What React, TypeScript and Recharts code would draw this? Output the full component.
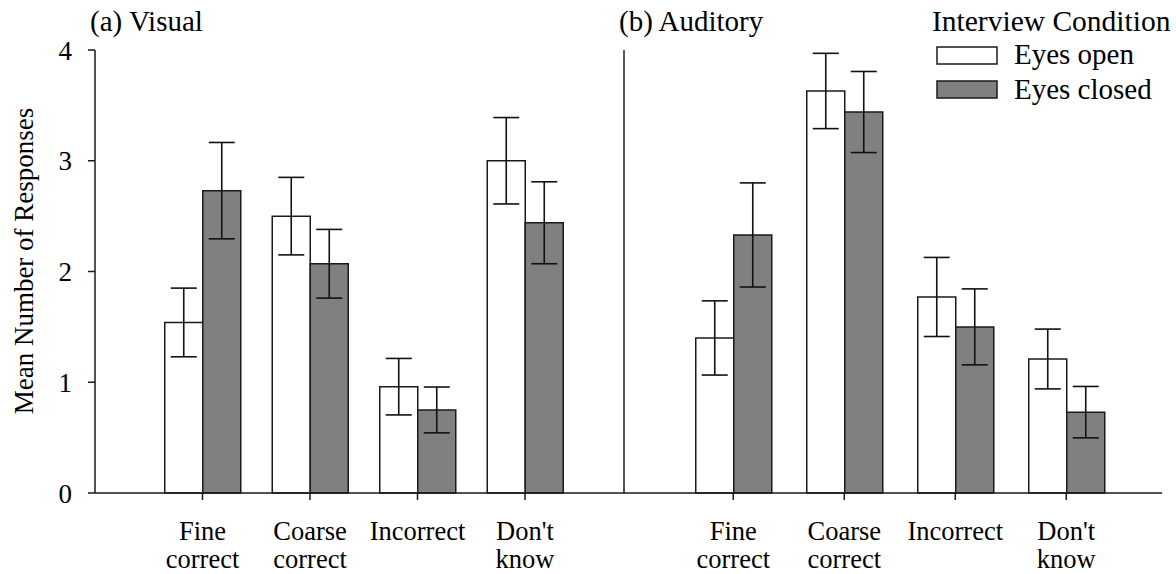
import React from "react";
import { Bar, BarChart, ErrorBar, Legend, XAxis, YAxis } from "recharts";

const categories = ["Fine correct", "Coarse correct", "Incorrect", "Don't know"];
const seriesNames = ["Eyes open", "Eyes closed"];
const yTicks = [0, 1, 2, 3, 4];

// (a) Visual
const visualOpen = [1.54, 2.5, 0.96, 3.0];
const visualOpenErr = [0.31, 0.35, 0.255, 0.39];
const visualClosed = [2.73, 2.07, 0.75, 2.44];
const visualClosedErr = [0.435, 0.31, 0.207, 0.37];

// (b) Auditory
const auditoryOpen = [1.4, 3.63, 1.77, 1.21];
const auditoryOpenErr = [0.335, 0.34, 0.357, 0.27];
const auditoryClosed = [2.33, 3.44, 1.5, 0.73];
const auditoryClosedErr = [0.47, 0.366, 0.343, 0.232];

const FONT = "'Liberation Serif', 'Times New Roman', serif";
const INK = "#1a1a1a";
const fills = { open: "#ffffff", closed: "#808080" };

function buildRows(open: number[], openErr: number[], closed: number[], closedErr: number[]) {
  return categories.map((cat, i) => ({
    cat,
    open: open[i],
    openErr: openErr[i],
    closed: closed[i],
    closedErr: closedErr[i],
  }));
}

const visualRows = buildRows(visualOpen, visualOpenErr, visualClosed, visualClosedErr);
const auditoryRows = buildRows(auditoryOpen, auditoryOpenErr, auditoryClosed, auditoryClosedErr);

// two-line category labels, split on the space
const CatTick = (props: any) => {
  const { x, y, payload } = props;
  const lines = String(payload.value).split(" ");
  return (
    <text x={x} y={y} textAnchor="middle" fontSize={26.5} fontFamily={FONT} fill="#000">
      {lines.map((l, i) => (
        <tspan key={i} x={x} dy={i === 0 ? 37.5 : 28}>
          {l}
        </tspan>
      ))}
    </text>
  );
};

const LegendBox = () => (
  <svg width={247} height={110} style={{ display: "block" }}>
    <text x={3} y={31} fontSize={29.5} fontFamily={FONT} fill="#000">
      Interview Condition
    </text>
    {seriesNames.map((name, i) => (
      <g key={name}>
        <rect
          x={8}
          y={47 + i * 34}
          width={60}
          height={17}
          fill={i === 0 ? fills.open : fills.closed}
          stroke={INK}
          strokeWidth={1.5}
        />
        <text x={85} y={64 + i * 35} fontSize={29} fontFamily={FONT} fill="#000">
          {name}
        </text>
      </g>
    ))}
  </svg>
);

function Panel({
  rows,
  title,
  showYLabels,
  padRight,
  withLegend,
  width,
}: {
  rows: any[];
  title: string;
  showYLabels: boolean;
  padRight: number;
  withLegend: boolean;
  width: number;
}) {
  return (
    <BarChart
      width={width}
      height={574}
      data={rows}
      margin={{ top: 50, right: 0, bottom: 0, left: 0 }}
      barGap={0}
      barSize={38}
    >
      <text x={90} y={31} fontSize={29} fontFamily={FONT} fill="#000">
        {title}
      </text>
      <XAxis
        dataKey="cat"
        height={81}
        interval={0}
        padding={{ left: 53.75, right: padRight }}
        axisLine={{ stroke: INK, strokeWidth: 1.5 }}
        tickLine={{ stroke: INK, strokeWidth: 1.5 }}
        tickSize={7}
        tick={<CatTick />}
      />
      <YAxis
        width={95}
        domain={[0, 4]}
        ticks={yTicks}
        interval={0}
        axisLine={{ stroke: INK, strokeWidth: 1.5 }}
        tickLine={{ stroke: INK, strokeWidth: 1.5 }}
        tickSize={7}
        tickMargin={16}
        tick={showYLabels ? { fontSize: 27, fontFamily: FONT, fill: "#000" } : false}
        label={
          showYLabels
            ? {
                content: () => (
                  <text
                    x={33}
                    y={261}
                    transform="rotate(-90 33 261)"
                    textAnchor="middle"
                    fontSize={27}
                    fontFamily={FONT}
                    fill="#000"
                  >
                    Mean Number of Responses
                  </text>
                ),
              }
            : undefined
        }
      />
      {withLegend && (
        <Legend
          layout="vertical"
          align="center"
          verticalAlign="middle"
          wrapperStyle={{ left: 400, top: 0, width: 247 }}
          content={() => <LegendBox />}
        />
      )}
      <Bar
        dataKey="open"
        name={seriesNames[0]}
        fill={fills.open}
        stroke={INK}
        strokeWidth={1.5}
        isAnimationActive={false}
      >
        <ErrorBar dataKey="openErr" width={13} stroke="#111" strokeWidth={1.6} direction="y" isAnimationActive={false} />
      </Bar>
      <Bar
        dataKey="closed"
        name={seriesNames[1]}
        fill={fills.closed}
        stroke={INK}
        strokeWidth={1.5}
        isAnimationActive={false}
      >
        <ErrorBar dataKey="closedErr" width={13} stroke="#111" strokeWidth={1.6} direction="y" isAnimationActive={false} />
      </Bar>
    </BarChart>
  );
}

export default function App() {
  return (
    <div style={{ position: "absolute", left: 0, top: 0, width: 1176, height: 574, background: "#fff" }}>
      <div style={{ position: "absolute", left: 0, top: 0 }}>
        <Panel rows={visualRows} title="(a) Visual" showYLabels padRight={45.25} withLegend={false} width={624} />
      </div>
      <div style={{ position: "absolute", left: 529, top: 0 }}>
        <Panel rows={auditoryRows} title="(b) Auditory" showYLabels={false} padRight={40.25} withLegend width={633} />
      </div>
    </div>
  );
}
